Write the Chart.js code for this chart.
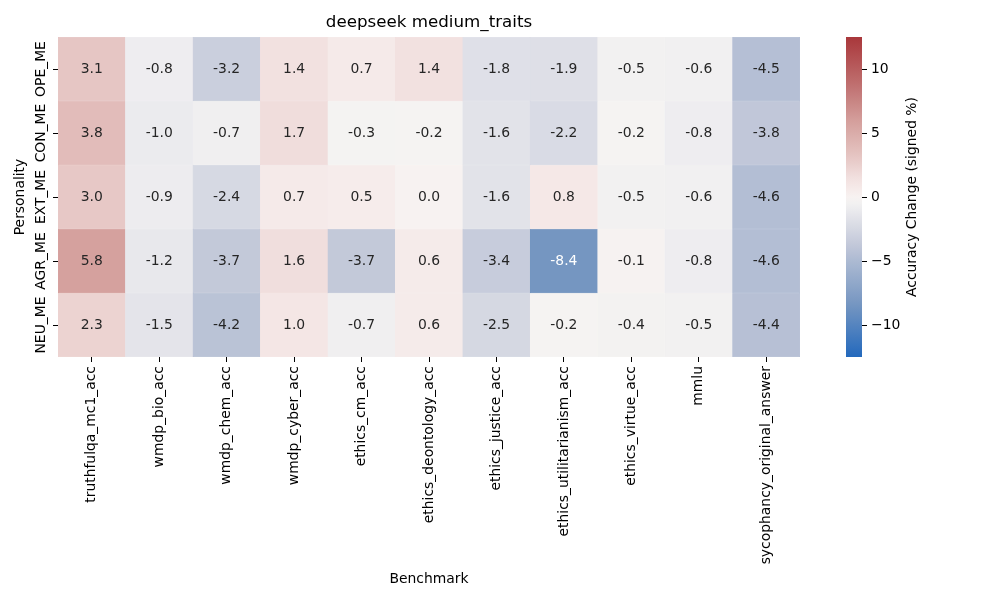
<!DOCTYPE html>
<html>
<head>
<meta charset="utf-8">
<script src="https://cdn.jsdelivr.net/npm/chart.js@4.4.1/dist/chart.umd.min.js"></script>
<style>
body { margin: 0; background: #fff; }
#wrap { position: relative; width: 1000px; height: 600px; }
canvas { position: absolute; left: 0; top: 0; }
</style>
</head>
<body>
<div id="wrap">
<canvas id="heat" width="1000" height="600"></canvas>
<canvas id="cbar" width="1000" height="600"></canvas>
</div>
<script>
const benchmarks = ['truthfulqa_mc1_acc', 'wmdp_bio_acc', 'wmdp_chem_acc', 'wmdp_cyber_acc',
    'ethics_cm_acc', 'ethics_deontology_acc', 'ethics_justice_acc', 'ethics_utilitarianism_acc',
    'ethics_virtue_acc', 'mmlu', 'sycophancy_original_answer'];
const personalities = ['OPE_ME', 'CON_ME', 'EXT_ME', 'AGR_ME', 'NEU_ME'];

const opeValues = [3.1, -0.8, -3.2, 1.4, 0.7, 1.4, -1.8, -1.9, -0.5, -0.6, -4.5];
const conValues = [3.8, -1.0, -0.7, 1.7, -0.3, -0.2, -1.6, -2.2, -0.2, -0.8, -3.8];
const extValues = [3.0, -0.9, -2.4, 0.7, 0.5, 0.0, -1.6, 0.8, -0.5, -0.6, -4.6];
const agrValues = [5.8, -1.2, -3.7, 1.6, -3.7, 0.6, -3.4, -8.4, -0.1, -0.8, -4.6];
const neuValues = [2.3, -1.5, -4.2, 1.0, -0.7, 0.6, -2.5, -0.2, -0.4, -0.5, -4.4];
const rowValues = [opeValues, conValues, extValues, agrValues, neuValues];

const vmin = -12.5;
const vmax = 12.5;
const cbarTicks = [-10, -5, 0, 5, 10];

const FONT = 'DejaVu Sans';

// rough vlag colormap
const stops = [
    [0.00, [35, 105, 189]],
    [0.164, [117, 150, 193]],
    [0.316, [179, 190, 212]],
    [0.35, [194, 200, 217]],
    [0.44, [228, 228, 234]],
    [0.47, [239, 238, 240]],
    [0.49, [245, 243, 242]],
    [0.50, [247, 242, 241]],
    [0.53, [245, 233, 232]],
    [0.56, [241, 224, 223]],
    [0.624, [230, 198, 196]],
    [0.732, [213, 161, 158]],
    [0.85, [191, 112, 112]],
    [1.00, [169, 55, 59]]
];

function cmapRGB(v) {
    let t = (v - vmin) / (vmax - vmin);
    t = Math.max(0, Math.min(1, t));
    for (let i = 1; i < stops.length; i++) {
        if (t <= stops[i][0]) {
            const [t0, c0] = stops[i - 1];
            const [t1, c1] = stops[i];
            const f = (t - t0) / (t1 - t0);
            return c0.map((c, k) => Math.round(c + (c1[k] - c) * f));
        }
    }
    return stops[stops.length - 1][1];
}

function cmap(v) {
    const c = cmapRGB(v);
    return `rgb(${c[0]},${c[1]},${c[2]})`;
}

function textColor(v) {
    const lin = cmapRGB(v).map(c => {
        c = c / 255;
        return c <= 0.03928 ? c / 12.92 : Math.pow((c + 0.055) / 1.055, 2.4);
    });
    const lum = 0.2126 * lin[0] + 0.7152 * lin[1] + 0.0722 * lin[2];
    return lum > 0.408 ? '#262626' : '#ffffff';
}

const heatText = {
    id: 'heatText',
    afterDatasetsDraw(chart) {
        const ctx = chart.ctx;
        ctx.save();
        ctx.font = '13.9px "' + FONT + '"';
        ctx.textAlign = 'center';
        ctx.textBaseline = 'middle';
        chart.data.datasets.forEach((ds, r) => {
            chart.getDatasetMeta(r).data.forEach((el, c) => {
                const p = el.getCenterPoint();
                const v = rowValues[r][c];
                ctx.fillStyle = textColor(v);
                ctx.fillText(v.toFixed(1).replace('-0.0', '0.0'), p.x, p.y);
            });
        });
        // row labels, rotated
        const ys = chart.scales.y;
        ctx.fillStyle = '#000';
        personalities.forEach((p, i) => {
            ctx.save();
            ctx.translate(41, ys.getPixelForValue(i + 0.5));
            ctx.rotate(-Math.PI / 2);
            ctx.fillText(p, 0, 0);
            ctx.restore();
        });
        // title
        const a = chart.chartArea;
        ctx.font = '16.7px "' + FONT + '"';
        ctx.fillText('deepseek medium_traits', (a.left + a.right) / 2, 23);
        ctx.restore();
    }
};

new Chart(document.getElementById('heat'), {
    type: 'bar',
    data: {
        labels: benchmarks,
        datasets: personalities.map((p, r) => ({
            label: p,
            data: rowValues[r].map(() => [r, r + 1]),
            backgroundColor: rowValues[r].map(cmap),
            borderColor: rowValues[r].map(cmap),
            borderWidth: 0.5,
            borderSkipped: false,
            grouped: false,
            barPercentage: 1,
            categoryPercentage: 1
        }))
    },
    options: {
        responsive: false,
        animation: false,
        layout: { padding: { left: 8, top: 37, right: 200, bottom: 8 } },
        plugins: {
            legend: { display: false },
            tooltip: { enabled: false },
            title: { display: false }
        },
        scales: {
            x: {
                grid: { offset: false, drawOnChartArea: false, tickLength: 5, color: '#000', tickWidth: 1 },
                border: { display: false },
                ticks: { minRotation: 90, maxRotation: 90, autoSkip: false, padding: 4, color: '#000',
                    font: { family: FONT, size: 13.9 } },
                title: { display: true, text: 'Benchmark', color: '#000', font: { family: FONT, size: 13.9 } },
                afterFit(s) { s.height = 235; }
            },
            y: {
                type: 'linear',
                min: 0,
                max: 5,
                reverse: true,
                afterBuildTicks(s) { s.ticks = personalities.map((p, i) => ({ value: i + 0.5 })); },
                grid: { drawOnChartArea: false, tickLength: 5, color: '#000' },
                border: { display: false },
                ticks: { display: false },
                title: { display: true, text: 'Personality', color: '#000', font: { family: FONT, size: 13.9 } },
                afterFit(s) { s.width = 50; }
            }
        }
    },
    plugins: [heatText]
});

const cbarLabel = {
    id: 'cbarLabel',
    afterDraw(chart) {
        const a = chart.chartArea;
        const ctx = chart.ctx;
        ctx.save();
        ctx.font = '13.9px "' + FONT + '"';
        ctx.fillStyle = '#000';
        ctx.textAlign = 'center';
        ctx.textBaseline = 'middle';
        ctx.translate(912, (a.top + a.bottom) / 2);
        ctx.rotate(-Math.PI / 2);
        ctx.fillText('Accuracy Change (signed %)', 0, 0);
        ctx.restore();
    }
};

new Chart(document.getElementById('cbar'), {
    type: 'bar',
    data: {
        labels: [''],
        datasets: [{
            data: [[vmin, vmax]],
            backgroundColor(c) {
                const a = c.chart.chartArea;
                if (!a) return '#fff';
                const g = c.chart.ctx.createLinearGradient(0, a.bottom, 0, a.top);
                for (let i = 0; i <= 50; i++) {
                    g.addColorStop(i / 50, cmap(vmin + (vmax - vmin) * i / 50));
                }
                return g;
            },
            borderWidth: 0,
            barPercentage: 1,
            categoryPercentage: 1
        }]
    },
    options: {
        responsive: false,
        animation: false,
        layout: { padding: { left: 846, top: 37, right: 68, bottom: 243 } },
        plugins: { legend: { display: false }, tooltip: { enabled: false } },
        scales: {
            x: { display: false },
            y: {
                position: 'right',
                min: vmin,
                max: vmax,
                afterBuildTicks(s) { s.ticks = cbarTicks.map(v => ({ value: v })); },
                grid: { drawOnChartArea: false, tickLength: 5, color: '#000' },
                border: { display: false },
                ticks: { padding: 4, color: '#000', font: { family: FONT, size: 13.9 },
                    callback: v => String(v).replace('-', '\u2212') },
                afterFit(s) { s.width = 70; }
            }
        }
    },
    plugins: [cbarLabel]
});
</script>
</body>
</html>
